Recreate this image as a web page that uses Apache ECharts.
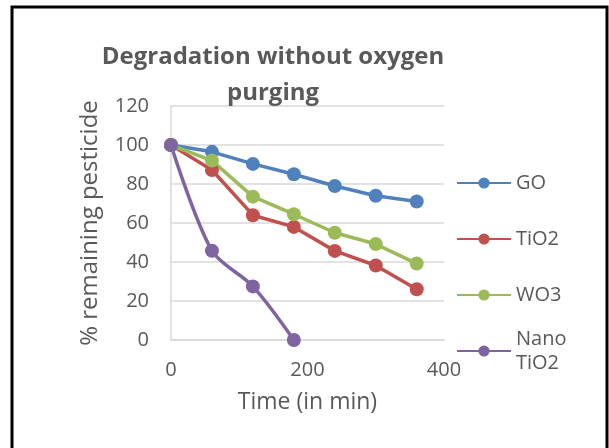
<!DOCTYPE html>
<html>
<head>
<meta charset="utf-8">
<script src="https://cdn.jsdelivr.net/npm/echarts@6/dist/echarts.min.js"></script>
<style>
  html, body { margin: 0; padding: 0; background: #fff; }
  #chart { width: 609px; height: 448px; }
</style>
</head>
<body>
<div id="chart"></div>
<script>
// Sampling times (min) and % pesticide remaining for each catalyst
const times = [0, 60, 120, 180, 240, 300, 360];
const goValues = [100, 96.5, 90.3, 85, 79, 74, 71];
const tio2Values = [100, 87.2, 64, 58, 45.7, 38.2, 26];
const wo3Values = [100, 92, 73.5, 64.5, 55, 49.2, 39.2];
const nanoTimes = [0, 60, 120, 180];
const nanoValues = [100, 45.8, 27.5, 0];
const yTicks = [0, 20, 40, 60, 80, 100, 120];
const xTicks = [0, 200, 400];

const seriesNames = ['GO', 'TiO2', 'WO3', 'Nano TiO2'];
const colors = ['#4F81BD', '#C0504D', '#9BBB59', '#8064A2'];

const FONT = '"Open Sans", sans-serif';
const GREY_TEXT = '#595959';
const GRID_LINE = '#D9D9D9';

function pairs(xs, ys) {
  return xs.map((x, i) => [x, ys[i]]);
}

function lineSeries(name, data, color, smooth) {
  return {
    name: name,
    type: 'line',
    data: data,
    smooth: smooth,
    symbol: 'circle',
    symbolSize: 14,
    lineStyle: { color: color, width: 3.5 },
    itemStyle: { color: color },
    emphasis: { disabled: true },
    animation: false
  };
}

// One legend block per entry so the spacing stays even despite the two-line label
const legendTops = [166, 222, 278, 310];
const legends = seriesNames.map((name, i) => ({
  data: [name],
  left: 451,
  top: legendTops[i],
  orient: 'vertical',
  itemWidth: 54,
  itemHeight: 14,
  itemGap: 0,
  selectedMode: false,
  formatter: n => (n === 'Nano TiO2' ? 'Nano\nTiO2' : n),
  textStyle: {
    fontFamily: FONT,
    fontSize: 20,
    color: GREY_TEXT,
    lineHeight: 24,
    padding: name === 'Nano TiO2' ? [24, 0, 0, 0] : 0
  }
}));

const chart = echarts.init(document.getElementById('chart'), null, { renderer: 'canvas' });

chart.setOption({
  backgroundColor: '#fff',
  animation: false,
  title: {
    text: 'Degradation without oxygen\npurging',
    left: 268,
    top: 34,
    textAlign: 'center',
    textStyle: {
      fontFamily: FONT,
      fontSize: 24,
      fontWeight: 'bold',
      color: GREY_TEXT,
      lineHeight: 36
    }
  },
  legend: legends,
  grid: {
    left: 171,
    top: 106,
    right: 165,
    bottom: 108,
    containLabel: false
  },
  xAxis: {
    type: 'value',
    min: xTicks[0],
    max: xTicks[xTicks.length - 1],
    interval: 200,
    name: 'Time (in min)',
    nameLocation: 'middle',
    nameGap: 51,
    nameTextStyle: { fontFamily: FONT, fontSize: 23, color: GREY_TEXT },
    axisLine: { show: true, lineStyle: { color: GRID_LINE, width: 1.5 } },
    axisTick: { show: false },
    splitLine: { show: false },
    axisLabel: { fontFamily: FONT, fontSize: 20, color: GREY_TEXT, margin: 20 }
  },
  yAxis: {
    type: 'value',
    min: yTicks[0],
    max: yTicks[yTicks.length - 1],
    interval: 20,
    name: '% remaining pesticide',
    nameLocation: 'middle',
    nameGap: 69,
    nameRotate: 90,
    nameTextStyle: { fontFamily: FONT, fontSize: 24, color: GREY_TEXT },
    axisLine: { show: true, lineStyle: { color: GRID_LINE, width: 1.5 } },
    axisTick: { show: false },
    splitLine: { show: true, lineStyle: { color: GRID_LINE, width: 1.5 } },
    axisLabel: { fontFamily: FONT, fontSize: 20, color: GREY_TEXT, margin: 22 }
  },
  series: [
    lineSeries(seriesNames[0], pairs(times, goValues), colors[0], false),
    lineSeries(seriesNames[1], pairs(times, tio2Values), colors[1], false),
    lineSeries(seriesNames[2], pairs(times, wo3Values), colors[2], false),
    lineSeries(seriesNames[3], pairs(nanoTimes, nanoValues), colors[3], 0.3)
  ],
  graphic: [
    {
      type: 'rect',
      shape: { x: 12, y: 7, width: 595, height: 470 },
      style: { fill: 'none', stroke: '#000', lineWidth: 3 },
      silent: true
    }
  ]
});
</script>
</body>
</html>
